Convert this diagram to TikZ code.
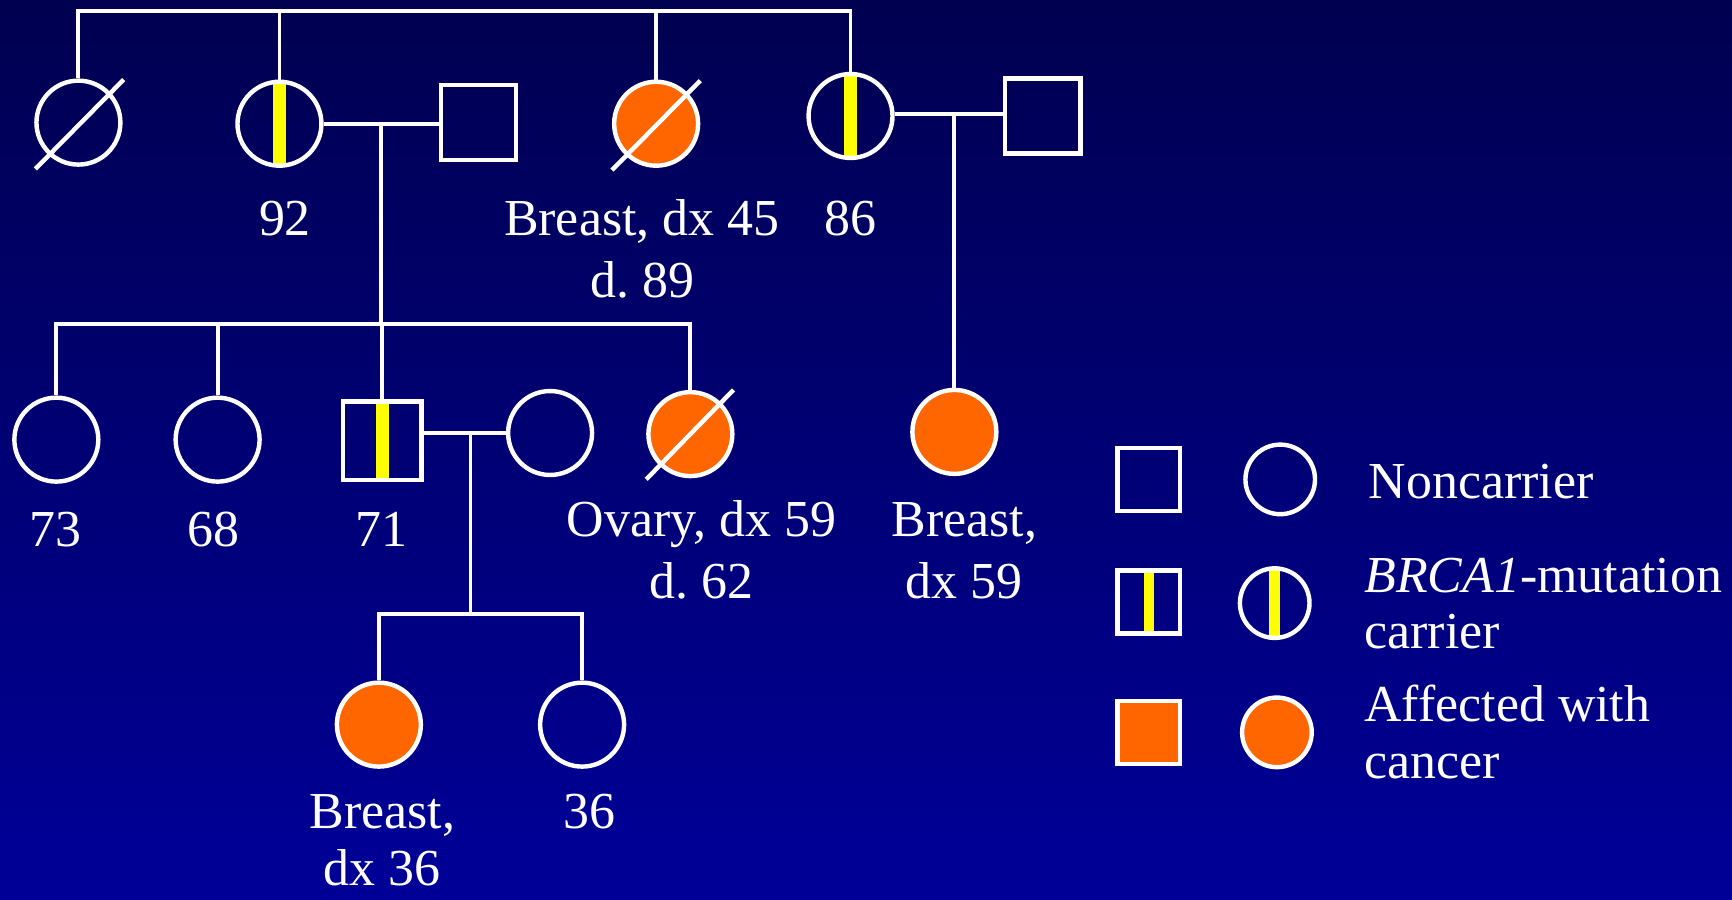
\documentclass[tikz,border=0pt]{standalone}
\usepackage{fontspec}
\setmainfont{Liberation Serif}
\usetikzlibrary{calc}
\definecolor{bgtop}{RGB}{0,0,80}
\definecolor{bgbot}{RGB}{0,0,152}
\definecolor{orng}{RGB}{255,102,0}
\definecolor{ylw}{RGB}{255,255,0}
\newcommand\lblfont{\fontsize{47}{56}\selectfont\frenchspacing}
\tikzset{
  ln/.style={draw=white, line width=3.5pt},
  slash/.style={draw=white, line width=4pt},
  fem/.style={circle, draw=white, line width=4pt, minimum size=76pt, inner sep=0pt},
  mal/.style={rectangle, draw=white, line width=4pt, minimum size=#1, inner sep=0pt},
  mal/.default=68pt,
  lfem/.style={circle, draw=white, line width=4pt, minimum size=63pt, inner sep=0pt},
  aff/.style={fill=orng},
  carr/.style={path picture={\fill[ylw] ([xshift=-#1/2]path picture bounding box.north) rectangle ([xshift=#1/2]path picture bounding box.south);}},
  carr/.default=12pt,
  lbl/.style={text=white, font=\lblfont, anchor=base, inner sep=0pt},
  leg/.style={text=white, font=\lblfont, anchor=base west, inner sep=0pt},
}
\begin{document}
\begin{tikzpicture}[x=1pt,y=-1pt]
\shade[top color=bgtop, bottom color=bgbot] (0,0) rectangle (1568,814);
\useasboundingbox (0,0) rectangle (1568,814);

% generation I
\node[fem] (a1) at (71,111) {};
\node[fem, carr] (a2) at (253,112) {};
\node[mal] (a2s) at (433,111) {};
\node[fem, aff] (a3) at (594,112) {};
\node[fem, carr] (a4) at (770,105) {};
\node[mal=68pt] (a4s) at (944,105) {};

% generation II
\node[fem] (b1) at (51,398) {};
\node[fem] (b2) at (197,398) {};
\node[mal=71pt, carr] (b3) at (346,399) {};
\node[fem] (b3s) at (498,392) {};
\node[fem, aff] (b4) at (625,393) {};
\node[fem, aff] (c1) at (864,391) {};

% generation III
\node[fem, aff] (d1) at (343,656) {};
\node[fem] (d2) at (527,656) {};

% deceased slashes
\draw[slash] ([shift={(-39,42)}]a1.center) -- ([shift={(41,-39)}]a1.center);
\draw[slash] ([shift={(-40,42)}]a3.center) -- ([shift={(40,-39)}]a3.center);
\draw[slash] ([shift={(-40,41)}]b4.center) -- ([shift={(39,-40)}]b4.center);

% sibship lines
\coordinate (sibI) at (0,10);
\coordinate (sibII) at (0,293);
\coordinate (sibIII) at (0,556);
\draw[ln] (a1.north) -- (a1.north |- sibI) -| (a4.north);
\draw[ln] (a2.north) -- (a2.north |- sibI);
\draw[ln] (a3.north) -- (a3.north |- sibI);

% marriage a2 - a2s
\draw[ln] (a2.east) -- (a2.east -| a2s.west);
\coordinate (m1) at ($(a2.east)!0.5!(a2.east -| a2s.west)$);
\draw[ln] (m1) -- (m1 |- sibII);
\draw[ln] (b1.north) -- (b1.north |- sibII) -| (b4.north);
\draw[ln] (b2.north) -- (b2.north |- sibII);
\draw[ln] (b3.north) -- (b3.north |- sibII);

% marriage a4 - a4s
\draw[ln] (a4s.west |- 0,103) -- (a4.east |- 0,103);
\draw[ln] (c1.north) -- (c1.north |- 0,103);

% marriage b3 - b3s
\draw[ln] (b3s.west) -- (b3s.west -| b3.east);
\coordinate (m3) at (426,392);
\draw[ln] (m3) -- (m3 |- sibIII);
\draw[ln] (d1.north) -- (d1.north |- sibIII) -| (d2.north);

% labels
\node[lbl] (l92) at (258,213) {92};
\node[lbl] (l45) at (581,213) {Breast, dx 45};
\node[lbl] (l89) at (582,269) {d. 89};
\node[lbl] (l86) at (770,213) {86};
\node[lbl] (l73) at (50,495) {73};
\node[lbl] (l68) at (193,495) {68};
\node[lbl] (l71) at (345,495) {71};
\node[lbl] (lov) at (635,486) {Ovary, dx 59};
\node[lbl] (l62) at (635,542) {d. 62};
\node[lbl] (lbr) at (873,486) {Breast,};
\node[lbl] (l59) at (873,542) {dx 59};
\node[lbl] (lbr2) at (346,750) {Breast,};
\node[lbl] (l36a) at (346,802) {dx 36};
\node[lbl] (l36) at (534,750) {36};

% legend
\node[mal=57pt] (k1) at (1040,434) {};
\node[lfem] (k2) at (1159,434) {};
\node[mal=57pt, carr=9.5pt] (k3) at (1040,545) {};
\node[lfem, carr=9.5pt] (k4) at (1154,546) {};
\node[mal=57pt, aff] (k5) at (1040,663) {};
\node[lfem, aff] (k6) at (1156,663) {};
\node[leg] (t1) at (1239,451) {Noncarrier};
\node[leg] (t2) at (1235,536) {\textit{BRCA1}-mutation};
\node[leg] (t3) at (1235,587) {carrier};
\node[leg] (t4) at (1235,653) {Affected with};
\node[leg] (t5) at (1235,705) {cancer};
\end{tikzpicture}
\end{document}
